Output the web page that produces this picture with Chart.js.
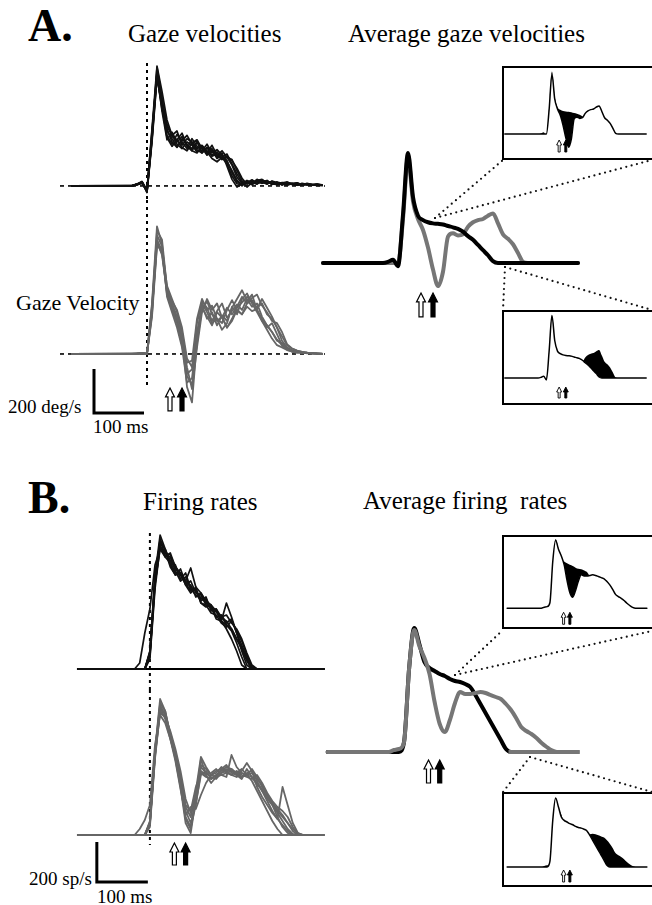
<!DOCTYPE html>
<html>
<head>
<meta charset="utf-8">
<script src="https://cdn.jsdelivr.net/npm/chart.js@4.4.1/dist/chart.umd.min.js"></script>
<style>
  html, body { margin: 0; padding: 0; background: #fff; }
  body { width: 652px; height: 905px; position: relative; overflow: hidden;
         font-family: "Liberation Serif", "Times New Roman", serif; color: #000; }
  .panel { position: absolute; }
  .txt { position: absolute; line-height: 1; white-space: pre; }
  .frame { position: absolute; border: 2px solid #000; box-sizing: border-box; }
  #links { position: absolute; left: 0; top: 0; pointer-events: none; }
</style>
</head>
<body>
<div class="txt" style="left:28px;top:3px;font-size:46px;font-weight:bold">A.</div>
<div class="txt" style="left:128px;top:21px;font-size:25px">Gaze velocities</div>
<div class="txt" style="left:348px;top:21px;font-size:25px">Average gaze velocities</div>
<div class="txt" style="left:16px;top:292px;font-size:22px">Gaze Velocity</div>
<div class="txt" style="left:8px;top:397px;font-size:19px">200 deg/s</div>
<div class="txt" style="left:93px;top:417px;font-size:19px">100 ms</div>

<div class="txt" style="left:28px;top:475px;font-size:46px;font-weight:bold">B.</div>
<div class="txt" style="left:143px;top:489px;font-size:25px">Firing rates</div>
<div class="txt" style="left:363px;top:488px;font-size:25px">Average firing  rates</div>
<div class="txt" style="left:29px;top:869px;font-size:19px">200 sp/s</div>
<div class="txt" style="left:97px;top:887px;font-size:19px">100 ms</div>

<script>
// time grids (ms from saccade onset)
const tGaze = [-150,-30,-20,-10,0,10,20,30,40,50,60,70,80,90,100,110,120,130,140,150,160,170,180,190,200,210,220,230,240,250,260,270,280,290,300,310,320,330,340,350];
const tGazeAvg = [-150,-30,-20,-10,0,10,20,30,40,50,60,70,80,90,100,110,120,130,140,150,160,170,180,190,200,210,220,230,240,250,260,270,280,290,300,310,320,330,340,350,360];
const tFire = [-140,-30,-20,-10,0,10,20,30,40,50,60,70,80,90,100,110,120,130,140,150,160,170,180,190,200,210,220,230,240,250,260,270,280,290,300,310,320,330,340];
const tFireAvg = [-150,-30,-20,-10,0,10,20,30,40,50,60,70,80,90,100,110,120,130,140,150,160,170,180,190,200,210,220,230,240,250,260,270,280,290,300,310,320,330,340];

// gaze velocity (deg/s), single trials, black condition
const gazeBlackTrials = [
  [0,0,8,18,-25, 220,540,400,230,190,235,200,170,215,180,160,190,150,165,140,115,60,20,5, 25,12,30,18,8,22,15,5,18,10,14,4,12,6,8,5],
  [0,2,5,15,-20, 250,510,340,210,245,200,225,180,160,200,175,140,170,130,150,90,30,-5,10, 20,5,25,12,20,8,15,10,5,12,8,4,10,6,5,3],
  [0,0,6,20,-30, 200,490,370,250,215,180,205,230,190,165,150,175,135,145,120,130,95,40,10, 15,28,10,18,25,8,16,5,14,9,3,12,7,5,8,4],
  [0,1,10,12,-22, 240,520,390,280,225,210,175,160,195,210,170,150,185,140,160,130,120,70,25, -5,15,24,30,12,20,8,14,18,6,10,5,9,4,6,3],
  [0,0,7,16,-28, 210,500,350,260,200,175,215,190,160,150,180,155,125,110,130,100,45,10,5, 18,10,25,14,22,6,18,12,3,10,14,5,8,4,7,3],
  [0,2,9,20,-18, 260,545,430,300,230,250,185,215,200,170,185,160,140,155,125,135,115,80,35, 8,20,12,26,18,10,16,6,12,9,4,10,5,7,3,2],
  [0,0,5,14,-26, 230,505,360,220,180,210,240,185,170,200,150,175,165,125,140,110,70,25,0, 20,8,22,12,24,10,6,15,8,12,4,9,6,5,4,3],
  [0,1,8,17,-24, 215,515,380,270,235,190,170,200,185,155,175,145,160,140,130,145,100,55,15, 22,16,8,28,14,20,9,12,6,10,7,3,8,5,2,2]
];
// gaze velocity (deg/s), single trials, gray condition
const gazeGrayTrials = [
  [0,0,2,4,0, 180,560,520,300,230,170,80,-150,-220,60,220,160,190,130,175,150,210,250,290,240,270,200,150,120,140,90,40,20,10,5,8,3,5,2,0],
  [0,1,0,3,2, 210,520,470,270,200,140,40,-90,-70,140,240,210,150,195,230,165,195,225,200,250,215,230,170,130,100,60,50,25,12,8,5,6,2,3,0],
  [0,0,1,5,0, 190,500,460,290,240,200,120,-20,-60,100,200,240,180,150,170,120,160,210,235,260,240,210,230,180,160,120,80,40,25,15,10,6,4,3,1],
  [0,0,3,2,1, 220,540,490,260,190,120,30,-130,-110,80,230,190,140,160,110,140,215,180,250,275,230,190,150,110,70,40,30,18,12,8,6,4,3,1,0],
  [0,2,1,4,0, 200,510,450,280,220,160,70,-60,-160,30,190,250,200,230,165,120,150,200,180,230,255,270,220,190,150,140,100,45,25,15,10,6,4,2,1],
  [0,0,2,3,2, 170,490,480,310,250,190,100,-40,-30,160,250,200,220,160,140,200,245,200,180,215,195,205,250,210,170,120,60,30,18,10,7,5,3,2,0],
  [0,1,1,5,0, 230,580,500,285,215,150,50,-100,-140,50,210,170,130,190,165,210,180,215,260,230,245,200,160,130,100,65,40,22,14,9,6,4,3,2,0]
];
// average gaze velocities (deg/s)
const gazeAvgBlack = [0,0,5,15,-15,220,500,300,215,195,185,180,178,175,168,162,155,142,122,105,82,58,35,8,0,0,0,0,0,0,0,0,0,0,0,0,0,0,0,0,0];
const gazeAvgGray = [0,0,0,0,0,200,480,280,200,150,70,-30,-105,-40,120,135,125,130,165,185,195,200,215,225,180,130,110,85,45,5,0,0,0,0,0,0,0,0,0,0,0];

// firing rates (sp/s), single trials, black condition
const fireBlackTrials = [
  [0,0,0,0, 90,470,670,600,540,500,470,440,410,390,355,340,300,285,255,240,200,150,100,40,0, 0,0,0,0,0,0,0,0,0,0,0,0,0,0],
  [0,0,30,180, 300,520,600,560,530,480,470,430,420,360,380,330,310,260,270,230,250,180,120,60,10, 0,0,0,0,0,0,0,0,0,0,0,0,0,0],
  [0,0,0,0, 60,420,620,560,580,510,470,440,505,410,380,340,320,290,240,330,260,180,90,20,0, 0,0,0,0,0,0,0,0,0,0,0,0,0,0],
  [0,0,0,0, 70,440,650,590,540,520,450,480,400,390,340,360,290,300,240,220,190,130,60,0,0, 0,0,0,0,0,0,0,0,0,0,0,0,0,0],
  [0,0,0,0, 80,460,630,600,520,470,500,430,390,400,330,320,280,270,230,210,240,190,140,70,10, 0,0,0,0,0,0,0,0,0,0,0,0,0,0],
  [0,0,0,0, 50,400,610,580,570,510,480,420,440,380,370,320,310,250,240,200,150,90,20,0,0, 0,0,0,0,0,0,0,0,0,0,0,0,0,0],
  [0,0,0,0, 85,450,640,570,560,490,440,460,400,370,350,350,300,300,260,270,230,200,150,80,20, 0,0,0,0,0,0,0,0,0,0,0,0,0,0],
  [0,0,0,0, 75,430,600,590,510,470,480,420,380,410,330,310,320,260,270,220,200,150,110,50,5, 0,0,0,0,0,0,0,0,0,0,0,0,0,0]
];
// firing rates (sp/s), single trials, gray condition
const fireGrayTrials = [
  [0,0,0,0, 60,420,680,620,490,380,240,60,10,180,380,300,260,290,330,350,310,300,280,330,290,250,230,180,150,90,40,10,0,0,0,0,0,0,0],
  [0,0,30,75, 150,450,600,560,480,390,260,120,60,160,300,320,280,300,310,320,330,300,290,310,320,270,220,170,120,80,50,20,0,0,0,0,0,0,0],
  [0,0,0,0, 40,380,620,590,520,430,320,180,110,220,390,340,300,290,300,310,320,310,330,300,290,260,220,190,150,110,70,30,5,0,0,0,0,0,0],
  [0,0,0,0, 70,410,650,600,500,400,270,90,40,150,320,300,310,330,300,290,400,340,310,300,330,290,240,200,160,130,100,60,20,0,0,0,0,0,0],
  [0,0,0,0, 50,390,630,610,510,410,300,140,90,200,340,310,290,280,310,330,320,300,320,360,320,240,190,150,110,80,240,150,60,10,0,0,0,0,0],
  [0,0,0,0, 65,400,640,580,480,370,230,100,140,130,200,260,300,320,330,310,300,320,300,290,280,300,260,210,170,140,120,90,40,5,0,0,0,0,0],
  [0,0,0,0, 55,420,660,620,500,390,250,80,30,190,350,330,300,310,340,320,300,290,310,300,270,220,170,120,70,30,0,0,0,0,0,0,0,0,0],
  [0,0,0,0, 60,400,610,590,500,400,280,150,120,240,310,290,280,300,320,340,330,310,290,300,310,280,250,200,160,120,90,60,30,10,0,0,0,0,0]
];
// average firing rates (sp/s)
const fireAvgBlack = [0,0,0,0,50,420,620,540,450,420,405,390,380,365,355,350,340,325,285,240,195,150,105,60,15,0,0,0,0,0,0,0,0,0,0,0,0,0,0];
const fireAvgGray = [0,0,10,15,50,420,610,530,470,390,250,140,100,160,245,300,290,290,295,300,295,285,275,265,240,210,170,125,105,90,70,45,25,8,0,0,0,0,0];

// arrow times (ms): open arrow, filled arrow
const gazeArrowTimes = [46, 70];
const fireArrowTimes = [48, 70];

const BLACK = '#111';
const GRAY = '#666';
const AVG_GRAY = '#767676';

function toPoints(t, v) {
  return v.map((y, i) => ({ x: t[i], y: y }));
}

function trace(t, v, color, width, extra) {
  return Object.assign({ data: toPoints(t, v), borderColor: color, borderWidth: width, fill: false }, extra || {});
}

// single trials are drawn with straight segments
function trial(t, v, color, width) {
  return trace(t, v, color, width, { cubicInterpolationMode: 'default', tension: 0 });
}

function drawArrow(ctx, cx, top, a, filled) {
  const w = a.w, sw = a.sw, hh = a.hh, h = a.h;
  ctx.beginPath();
  ctx.moveTo(cx, top);
  ctx.lineTo(cx + w / 2, top + hh);
  ctx.lineTo(cx + sw / 2, top + hh);
  ctx.lineTo(cx + sw / 2, top + h);
  ctx.lineTo(cx - sw / 2, top + h);
  ctx.lineTo(cx - sw / 2, top + hh);
  ctx.lineTo(cx - w / 2, top + hh);
  ctx.closePath();
  ctx.fillStyle = filled ? '#000' : '#fff';
  ctx.fill();
  ctx.lineWidth = a.lw || 1.2;
  ctx.strokeStyle = '#000';
  ctx.stroke();
}

function strokeH(ctx, x, y, l) {
  ctx.beginPath();
  ctx.setLineDash(l.dash || []);
  ctx.lineWidth = l.width;
  ctx.strokeStyle = l.color;
  const py = y.getPixelForValue(l.y);
  ctx.moveTo(x.getPixelForValue(l.from), py);
  ctx.lineTo(x.getPixelForValue(l.to), py);
  ctx.stroke();
}

// reference lines, scale bar and arrows, all placed through the chart scales
function decorPlugin(spec) {
  return {
    id: 'decor',
    beforeDatasetsDraw(chart) {
      const { ctx, chartArea, scales: { x, y } } = chart;
      ctx.save();
      (spec.h || []).forEach(l => strokeH(ctx, x, y, l));
      (spec.v || []).forEach(l => {
        ctx.beginPath();
        ctx.setLineDash(l.dash || []);
        ctx.lineWidth = l.width;
        ctx.strokeStyle = l.color;
        const px = x.getPixelForValue(l.x);
        const y0 = l.from == null ? chartArea.top : y.getPixelForValue(l.from);
        const y1 = l.to == null ? chartArea.bottom : y.getPixelForValue(l.to);
        ctx.moveTo(px, y0);
        ctx.lineTo(px, y1);
        ctx.stroke();
      });
      ctx.restore();
    },
    afterDatasetsDraw(chart) {
      const { ctx, scales: { x, y } } = chart;
      ctx.save();
      (spec.hTop || []).forEach(l => strokeH(ctx, x, y, l));
      if (spec.scaleBar) {
        const sb = spec.scaleBar;
        const x0 = x.getPixelForValue(sb.x), x1 = x.getPixelForValue(sb.x + sb.dx);
        const y0 = y.getPixelForValue(sb.y), y1 = y.getPixelForValue(sb.y + sb.dy);
        ctx.beginPath();
        ctx.setLineDash([]);
        ctx.lineWidth = 3;
        ctx.lineCap = 'butt';
        ctx.strokeStyle = '#000';
        ctx.moveTo(x0, y1);
        ctx.lineTo(x0, y0);
        ctx.lineTo(x1, y0);
        ctx.stroke();
      }
      if (spec.arrows) {
        const a = spec.arrows;
        const top = y.getPixelForValue(0) + a.offset;
        ctx.setLineDash([]);
        a.times.forEach((tm, i) => drawArrow(ctx, x.getPixelForValue(tm), top, a, i === 1));
      }
      ctx.restore();
    }
  };
}

function makePanel(box, xr, yr, datasets, decor) {
  const d = document.createElement('div');
  d.className = 'panel';
  d.style.left = box[0] + 'px';
  d.style.top = box[1] + 'px';
  d.style.width = box[2] + 'px';
  d.style.height = box[3] + 'px';
  const c = document.createElement('canvas');
  d.appendChild(c);
  document.body.appendChild(d);
  return new Chart(c, {
    type: 'line',
    data: { datasets: datasets },
    options: {
      responsive: true,
      maintainAspectRatio: false,
      animation: false,
      events: [],
      layout: { padding: 0 },
      plugins: { legend: { display: false }, tooltip: { enabled: false } },
      elements: {
        point: { radius: 0 },
        line: { cubicInterpolationMode: 'monotone', borderJoinStyle: 'round', borderCapStyle: 'round' }
      },
      scales: {
        x: { type: 'linear', display: false, min: xr[0], max: xr[1] },
        y: { type: 'linear', display: false, min: yr[0], max: yr[1] }
      }
    },
    plugins: [decorPlugin(decor)]
  });
}

function makeFrame(left, top, width, height) {
  const f = document.createElement('div');
  f.className = 'frame';
  f.style.left = left + 'px';
  f.style.top = top + 'px';
  f.style.width = width + 'px';
  f.style.height = height + 'px';
  document.body.appendChild(f);
}

const dotted = { dash: [3, 4], width: 2, color: '#000' };
const bigArrow = { w: 9, sw: 4, hh: 9, lw: 1.2 };
const smallArrow = { w: 5, sw: 2, hh: 5, lw: 0.9 };
const hideLine = 'rgba(0,0,0,0)';
const fillAbove = target => ({ fill: { target: target, above: '#000', below: hideLine } });

// ---- A: single trial gaze velocities ----
makePanel([55, 60, 275, 140], [-184, 366], [-64, 573],
  gazeBlackTrials.map(v => trial(tGaze, v, BLACK, 1.7)),
  { h: [{ y: 0, from: -174, to: 356, dash: [4, 4], width: 1.6, color: '#000' }],
    v: [Object.assign({ x: 0, from: 559 }, dotted)] });

makePanel([55, 200, 275, 216], [-184, 366], [-282, 700],
  gazeGrayTrials.map(v => trial(tGaze, v, GRAY, 1.8)),
  { h: [{ y: 0, from: -174, to: 356, dash: [4, 4], width: 1.6, color: '#000' }],
    v: [Object.assign({ x: 0, to: -150 }, dotted)],
    arrows: Object.assign({ times: gazeArrowTimes, offset: 34, h: 23 }, bigArrow),
    scaleBar: { x: -106, y: -268, dx: 100, dy: 200 } });

// ---- A: average gaze velocities ----
makePanel([320, 140, 270, 185], [-156, 384], [-282, 559],
  [trace(tGazeAvg, gazeAvgBlack, '#000', 4), trace(tGazeAvg, gazeAvgGray, AVG_GRAY, 4)],
  { arrows: Object.assign({ times: gazeArrowTimes, offset: 30, h: 24 }, bigArrow) });

makeFrame(502, 66, 170, 94);
makePanel([504, 68, 148, 90], [-153, 381], [-192, 528],
  [trace(tGazeAvg, gazeAvgGray, '#000', 1.5),
   trace(tGazeAvg, gazeAvgBlack, hideLine, 1, fillAbove(0))],
  { arrows: Object.assign({ times: gazeArrowTimes, offset: 6, h: 12 }, smallArrow) });

makeFrame(502, 310, 170, 95);
makePanel([504, 312, 148, 91], [-153, 381], [-200, 528],
  [trace(tGazeAvg, gazeAvgBlack, '#000', 1.5),
   trace(tGazeAvg, gazeAvgGray, hideLine, 1, fillAbove(0))],
  { arrows: Object.assign({ times: gazeArrowTimes, offset: 9, h: 11 }, smallArrow) });

// ---- B: single trial firing rates ----
makePanel([55, 525, 275, 165], [-186, 353], [-105, 720],
  fireBlackTrials.map(v => trial(tFire, v, BLACK, 1.7)),
  { h: [{ y: 0, from: -143, to: 343, width: 2, color: '#000' }],
    v: [Object.assign({ x: 0, from: 680 }, dotted)] });

makePanel([55, 690, 275, 196], [-186, 353], [-255, 725],
  fireGrayTrials.map(v => trial(tFire, v, GRAY, 1.8)),
  { h: [{ y: 0, from: -143, to: 343, width: 2, color: '#666' }],
    v: [Object.assign({ x: 0, to: -50 }, dotted)],
    arrows: Object.assign({ times: fireArrowTimes, offset: 8, h: 22 }, bigArrow),
    scaleBar: { x: -104, y: -235, dx: 100, dy: 200 } });

// ---- B: average firing rates ----
makePanel([320, 610, 270, 185], [-165, 365], [-215, 710],
  [trace(tFireAvg, fireAvgGray, AVG_GRAY, 4), trace(tFireAvg, fireAvgBlack, '#000', 4)],
  { hTop: [{ y: 0, from: 205, to: 345, width: 4, color: AVG_GRAY }],
    arrows: Object.assign({ times: fireArrowTimes, offset: 8, h: 23 }, bigArrow) });

makeFrame(502, 535, 170, 94);
makePanel([504, 537, 148, 90], [-161, 358], [-168, 640],
  [trace(tFireAvg, fireAvgGray, '#000', 1.5),
   trace(tFireAvg, fireAvgBlack, hideLine, 1, fillAbove(0))],
  { arrows: Object.assign({ times: fireArrowTimes, offset: 4, h: 12 }, smallArrow) });

makeFrame(502, 792, 170, 95);
makePanel([504, 794, 148, 91], [-161, 358], [-162, 657],
  [trace(tFireAvg, fireAvgBlack, '#000', 1.5),
   trace(tFireAvg, fireAvgGray, hideLine, 1, fillAbove(0))],
  { arrows: Object.assign({ times: fireArrowTimes, offset: 3, h: 12 }, smallArrow) });

// dotted zoom connectors from the averages to the insets
const svgNS = 'http://www.w3.org/2000/svg';
const svg = document.createElementNS(svgNS, 'svg');
svg.setAttribute('id', 'links');
svg.setAttribute('width', '652');
svg.setAttribute('height', '905');
[[435, 218, 503, 160], [435, 218, 652, 160],
 [505, 267, 503, 310], [505, 267, 652, 310],
 [455, 675, 503, 630], [455, 675, 652, 631],
 [530, 757, 503, 792], [530, 757, 652, 792]].forEach(s => {
  const l = document.createElementNS(svgNS, 'line');
  l.setAttribute('x1', s[0]); l.setAttribute('y1', s[1]);
  l.setAttribute('x2', s[2]); l.setAttribute('y2', s[3]);
  l.setAttribute('stroke', '#111');
  l.setAttribute('stroke-width', '2.2');
  l.setAttribute('stroke-linecap', 'round');
  l.setAttribute('stroke-dasharray', '0 5.5');
  svg.appendChild(l);
});
document.body.appendChild(svg);
</script>
</body>
</html>
